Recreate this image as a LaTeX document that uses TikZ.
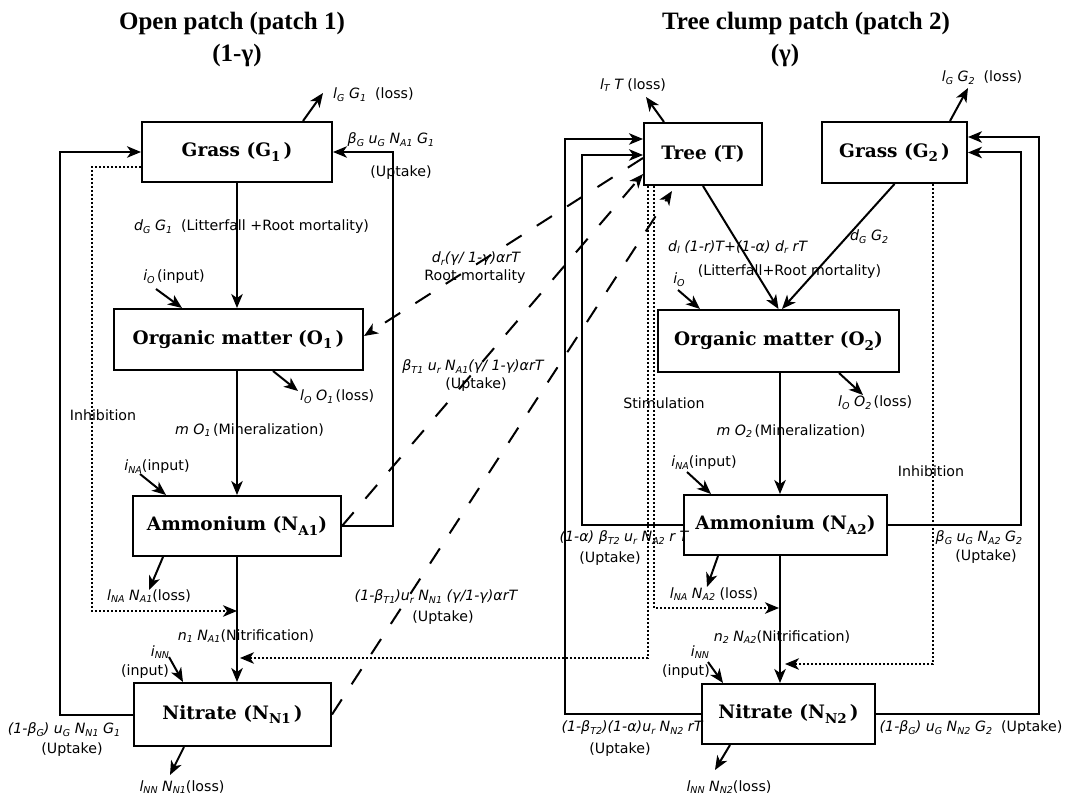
\documentclass[tikz,border=0pt]{standalone}
\usepackage{fontspec}
\setmainfont{DejaVu Sans}
\newfontfamily\boxfont{DejaVu Serif}
\newfontfamily\titlefont{Liberation Serif}
\usetikzlibrary{arrows.meta,calc}
\newcommand\sbs[1]{\raisebox{-0.35ex}{\fontsize{9.5}{9.5}\selectfont #1}}
\newcommand\bsub[1]{\raisebox{-0.45ex}{\fontsize{13.5}{13.5}\selectfont #1}}
\begin{document}
\begin{tikzpicture}[x=1pt,y=-1pt,
 box/.style={draw,line width=2pt,inner sep=0pt,font=\boxfont\bfseries\fontsize{18.5}{20}\selectfont},
 lbl/.style={font=\fontsize{14.2}{16}\selectfont,inner sep=0pt},
 ttl/.style={font=\titlefont\bfseries\fontsize{25}{28}\selectfont,inner sep=0pt,anchor=base},
 tip/.tip={Stealth[length=14pt,width=11.5pt,inset=4pt]},
 arr/.style={line width=2pt,-tip},
 dsh/.style={line width=2pt,dash pattern=on 18pt off 18pt,-tip},
 dotarr/.style={line width=2pt,dash pattern=on 2pt off 2pt,-tip}]
\useasboundingbox (0,0) rectangle (1077,799);

% titles
\node[ttl] (t1) at (232,30) {Open patch (patch 1)};
\node[ttl] (t1b) at (237,62) {(1-γ)};
\node[ttl] (t2) at (806,30) {Tree clump patch (patch 2)};
\node[ttl] (t2b) at (785,62) {(γ)};

% boxes patch 1
\node[box,minimum width=190pt,minimum height=60pt] (G1) at (237,152) {Grass (G\bsub{1}\,)};
\node[box,minimum width=249pt,minimum height=61pt] (O1) at (238.5,339.5) {Organic matter (O\bsub{1}\,)};
\node[box,minimum width=208pt,minimum height=60pt] (NA1) at (237,526) {Ammonium (N\bsub{A1})};
\node[box,minimum width=197pt,minimum height=63pt] (NN1) at (232.5,714.5) {Nitrate (N\bsub{N1}\,)};
% boxes patch 2
\node[box,minimum width=118pt,minimum height=62pt] (Tree) at (703,154) {Tree (T)};
\node[box,minimum width=145pt,minimum height=61pt] (G2) at (894.5,152.5) {Grass (G\bsub{2}\,)};
\node[box,minimum width=241pt,minimum height=62pt] (O2) at (778.5,341) {Organic matter (O\bsub{2})};
\node[box,minimum width=203pt,minimum height=60pt] (NA2) at (785.5,525) {Ammonium (N\bsub{A2})};
\node[box,minimum width=173pt,minimum height=60pt] (NN2) at (788.5,714) {Nitrate (N\bsub{N2}\,)};

% ---------- patch 1 connectors
\coordinate (gl1) at (323,93);
\draw[arr] ([xshift=66pt]G1.north) -- (gl1);
\node[lbl,anchor=west] (lgl1) at (333,95) {{\itshape l\sbs{G} G\sbs{1}}\ \ (loss)};

\draw[arr] (NN1.west) -- ++(-73,0) |- (G1.west);
\node[lbl] (u1a) at (64,730) {{\itshape (1-β\sbs{G}) u\sbs{G} N\sbs{N1} G\sbs{1}}};
\node[lbl] (u1b) at (72,750) {(Uptake)};

\draw[arr] (NA1.east) -- ++(51,0) |- (G1.east);
\node[lbl] (u2a) at (391,140) {{\itshape β\sbs{G} u\sbs{G} N\sbs{A1} G\sbs{1}}};
\node[lbl] (u2b) at (401,173) {(Uptake)};

\coordinate (inh1) at (237,611);
\draw[dotarr] ([yshift=-15pt]G1.west) -- ++(-49,0) |- (inh1);
\node[lbl] (inhl1) at (103,415) {Inhibition};

\draw[arr] (G1.south) -- (G1.south |- O1.north);
\node[lbl,anchor=west] (lit1) at (134,227) {{\itshape d\sbs{G} G\sbs{1}}\ \ (Litterfall +Root mortality)};

\coordinate (io1) at (156,289);
\draw[arr] (io1) -- ([xshift=-56.5pt]O1.north);
\node[lbl] (iol1) at (174,277) {{\itshape i\sbs{O}}\,(input)};

\coordinate (lo1) at (298,391);
\draw[arr] ([xshift=34.5pt]O1.south) -- (lo1);
\node[lbl,anchor=west] (lol1) at (300,397) {{\itshape l\sbs{O} O\sbs{1}}\,(loss)};

\draw[arr] (NA1.north |- O1.south) -- (NA1.north);
\node[lbl] (min1) at (249.5,430) {{\itshape m O\sbs{1}}\,(Mineralization)};

\coordinate (ina1) at (140,474);
\draw[arr] (ina1) -- ([xshift=-71pt]NA1.north);
\node[lbl] (inal1) at (157,467) {{\itshape i\sbs{NA}}(input)};

\coordinate (lna1) at (149,590);
\draw[arr] ([xshift=-74pt]NA1.south) -- (lna1);
\node[lbl] (lnal1) at (149,596) {{\itshape l\sbs{NA} N\sbs{A1}}(loss)};

\draw[arr] (NA1.south) -- (NA1.south |- NN1.north);
\node[lbl] (nit1) at (246,636) {{\itshape n\sbs{1} N\sbs{A1}}(Nitrification)};

\coordinate (inn1) at (169,657);
\draw[arr] (inn1) -- ([xshift=-49.5pt]NN1.north);
\node[lbl] (innl1) at (160,652) {\itshape i\sbs{NN}};
\node[lbl] (innl1b) at (145,672) {(input)};

\coordinate (lnn1) at (170,775);
\draw[arr] ([xshift=-48.5pt]NN1.south) -- (lnn1);
\node[lbl] (lnnl1) at (182,787) {{\itshape l\sbs{NN} N\sbs{N1}}(loss)};

% ---------- patch 2 connectors
\coordinate (lt) at (646,97);
\draw[arr] ([xshift=-39pt]Tree.north) -- (lt);
\node[lbl] (ltl) at (633,85) {{\itshape l\sbs{T} T}\ (loss)};

\coordinate (lg2) at (968,88);
\draw[arr] ([xshift=55.5pt]G2.north) -- (lg2);
\node[lbl] (lgl2) at (982,78) {{\itshape l\sbs{G} G\sbs{2}}\ \ (loss)};

\draw[arr] (NN2.west) -- ++(-136,0) |- ([yshift=15pt]Tree.west);
\draw[arr] (NA2.west) -- ++(-101,0) |- ([yshift=-1pt]Tree.west);
\draw[arr] (NN2.east) -- ++(163,0) |- ([yshift=15.5pt]G2.east);
\draw[arr] (NA2.east) -- ++(133,0) |- (G2.east);

\draw[arr] (Tree.south) -- (O2.north);
\draw[arr] (G2.south) -- ([xshift=3.5pt]O2.north);
\node[lbl,anchor=west] (lit2a) at (668,247) {{\itshape d\sbs{l} (1-r)T+(1-α) d\sbs{r} rT}};
\node[lbl] (lit2b) at (789.5,272) {(Litterfall+Root mortality)};
\node[lbl,anchor=west] (dg2) at (850,237) {{\itshape d\sbs{G} G\sbs{2}}};

\coordinate (io2) at (678,290);
\draw[arr] (io2) -- ([xshift=-78.5pt]O2.north);
\node[lbl] (iol2) at (679,280) {\itshape i\sbs{O}};

\coordinate (lo2) at (863,395);
\draw[arr] ([xshift=60.5pt]O2.south) -- (lo2);
\node[lbl,anchor=west] (lol2) at (838,403) {{\itshape l\sbs{O} O\sbs{2}}\,(loss)};

\draw[arr] ([xshift=1.5pt]O2.south) -- ([xshift=1.5pt]O2.south |- NA2.north);
\node[lbl] (min2) at (791,431) {{\itshape m O\sbs{2}}\,(Mineralization)};

\coordinate (ina2) at (687,472);
\draw[arr] (ina2) -- ([xshift=-74.5pt]NA2.north);
\node[lbl] (inal2) at (704,463) {{\itshape i\sbs{NA}}(input)};

\node[lbl] (stiml) at (664,403) {Stimulation};
\node[lbl] (inhl2) at (931,471) {Inhibition};

\coordinate (stim1) at (240,658);
\draw[dotarr] ([xshift=5pt]Tree.south west) |- (stim1);
\coordinate (stim2) at (779,608);
\draw[dotarr] ([xshift=11pt]Tree.south west) |- (stim2);
\coordinate (inh2) at (785,664);
\draw[dotarr] ([xshift=38.5pt]G2.south) |- (inh2);

\draw[arr] ([xshift=-5.5pt]NA2.south) -- ([xshift=-5.5pt]NA2.south |- NN2.north);
\node[lbl] (nit2) at (782,637) {{\itshape n\sbs{2} N\sbs{A2}}(Nitrification)};

\coordinate (lna2) at (707,587);
\draw[arr] ([xshift=-67.5pt]NA2.south) -- (lna2);
\node[lbl] (lnal2) at (714,594) {{\itshape l\sbs{NA} N\sbs{A2}} (loss)};

\coordinate (inn2) at (708,662);
\draw[arr] (inn2) -- ([xshift=-65.5pt]NN2.north);
\node[lbl] (innl2) at (700,652) {\itshape i\sbs{NN}};
\node[lbl] (innl2b) at (686,672) {(input)};

\coordinate (lnn2) at (715,770);
\draw[arr] ([xshift=-58.5pt]NN2.south) -- (lnn2);
\node[lbl] (lnnl2) at (729,787) {{\itshape l\sbs{NN} N\sbs{N2}}(loss)};

\node[lbl] (u3a) at (624,538) {{\itshape (1-α) β\sbs{T2} u\sbs{r} N\sbs{A2} r T}};
\node[lbl] (u3b) at (610,559) {(Uptake)};
\node[lbl] (u4a) at (979,538) {{\itshape β\sbs{G} u\sbs{G} N\sbs{A2} G\sbs{2}}};
\node[lbl] (u4b) at (986,557) {(Uptake)};
\node[lbl] (u5a) at (632,728) {{\itshape (1-β\sbs{T2})(1-α)u\sbs{r} N\sbs{N2} rT}};
\node[lbl] (u5b) at (620,750) {(Uptake)};
\node[lbl] (u6) at (971,728) {{\itshape (1-β\sbs{G}) u\sbs{G} N\sbs{N2} G\sbs{2}}\ \ (Uptake)};

% ---------- dashed cross-patch fluxes
\draw[dsh] ([yshift=-4pt]Tree.west) -- ([yshift=3.5pt]O1.east);
\draw[dsh] (NA1.east) -- ([yshift=12pt]Tree.south west);
\draw[dsh] (NN1.east) -- ([xshift=-31pt,yshift=-5pt]Tree.south);
\node[lbl] (rm1) at (476,259) {{\itshape d\sbs{r}(γ/ 1-γ)αrT}};
\node[lbl] (rm2) at (475,277) {Root mortality};
\node[lbl] (ut1) at (473,367) {{\itshape β\sbs{T1} u\sbs{r} N\sbs{A1}(γ/ 1-γ)αrT}};
\node[lbl] (ut1b) at (476,385) {(Uptake)};
\node[lbl] (ut2) at (436,597) {{\itshape (1-β\sbs{T1})u\sbs{r} N\sbs{N1} (γ/1-γ)αrT}};
\node[lbl] (ut2b) at (443,618) {(Uptake)};
\end{tikzpicture}
\end{document}
